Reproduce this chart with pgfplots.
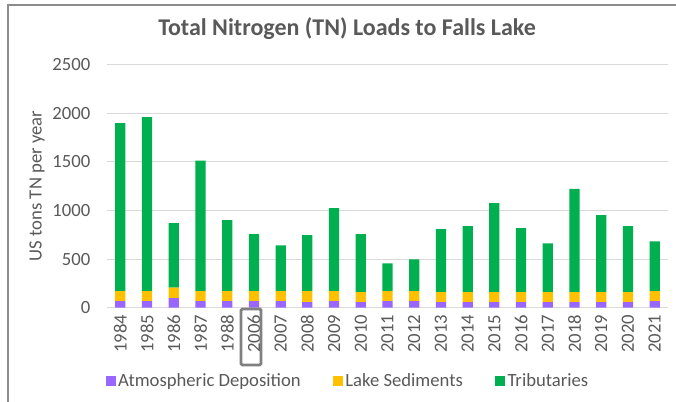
\documentclass[border=0pt]{standalone}
\usepackage{pgfplots}
\pgfplotsset{compat=1.18}
\usepackage{pgfplotstable}
\usepackage{fontspec}
\setmainfont{Carlito}
\definecolor{atm}{HTML}{9966FF}
\definecolor{sed}{HTML}{FFC000}
\definecolor{trib}{HTML}{00B050}
\definecolor{txt}{HTML}{595959}
\definecolor{gridc}{HTML}{D9D9D9}

\pgfplotstableread{
idx year atm sed trib
0  1984 68 103 1725
1  1985 68 103 1787
2  1986 99 106 665
3  1987 68 103 1341
4  1988 68 103 729
5  2006 68 103 586
6  2007 68 103 469
7  2008 58 113 575
8  2009 68 103 852
9  2010 58 103 596
10 2011 68 103 284
11 2012 68 103 325
12 2013 58 103 647
13 2014 58 103 678
14 2015 58 103 914
15 2016 58 103 657
16 2017 58 103 499
17 2018 58 103 1061
18 2019 58 103 790
19 2020 58 103 678
20 2021 68 103 510
}\data

\begin{document}
\begin{tikzpicture}
\path[use as bounding box] (0pt,0pt) rectangle (507pt,301.5pt);
\draw[color=black!45, line width=1.2pt] (6pt,0pt) -- (6pt,297.75pt) -- (507pt,297.75pt);
\node[font=\fontsize{18}{21}\selectfont\bfseries, text=txt] at (260.25pt,279.75pt) {Total Nitrogen (TN) Loads to Falls Lake};
\node[rotate=90, font=\fontsize{14}{16}\selectfont, text=txt] at (27.75pt,162pt) {US tons TN per year};
\begin{axis}[
  at={(80.25pt,70.725pt)}, anchor=south west,
  scale only axis, width=420.75pt, height=182.4pt,
  ybar stacked, bar width=7.7pt,
  xmin=-0.5, xmax=20.5, ymin=0, ymax=2500,
  ytick={0,500,...,2500},
  xtick=data, xticklabels from table={\data}{year},
  axis line style={draw=none},
  tick style={draw=none},
  ymajorgrids, grid style={gridc, line width=0.8pt},
  ticklabel style={font=\fontsize{14}{16}\selectfont, text=txt},
  /pgf/number format/assume math mode=true,
  /pgf/number format/1000 sep={},
  xticklabel style={rotate=90, anchor=east},
  xticklabel shift=2pt,
  yticklabel style={xshift=-9pt},
  legend columns=3,
  legend style={at={(0.43,-0.301)}, anchor=center, draw=none, fill=none,
    font=\fontsize{14}{16}\selectfont, text=txt,
    /tikz/every even column/.append style={column sep=22pt}},
  legend image code/.code={\fill[#1] (0pt,-3.75pt) rectangle (7.5pt,3.75pt);},
  clip=false,
]
\addplot[fill=atm, draw=none] table[x=idx, y=atm] {\data};
\addplot[fill=sed, draw=none] table[x=idx, y=sed] {\data};
\addplot[fill=trib, draw=none] table[x=idx, y=trib] {\data};
\legend{Atmospheric Deposition, Lake Sediments, Tributaries}
\end{axis}
\draw[color=black!50, line width=2.2pt, rounded corners=1pt] (180.75pt,69.75pt) rectangle (195.75pt,27.75pt);
\end{tikzpicture}
\end{document}
